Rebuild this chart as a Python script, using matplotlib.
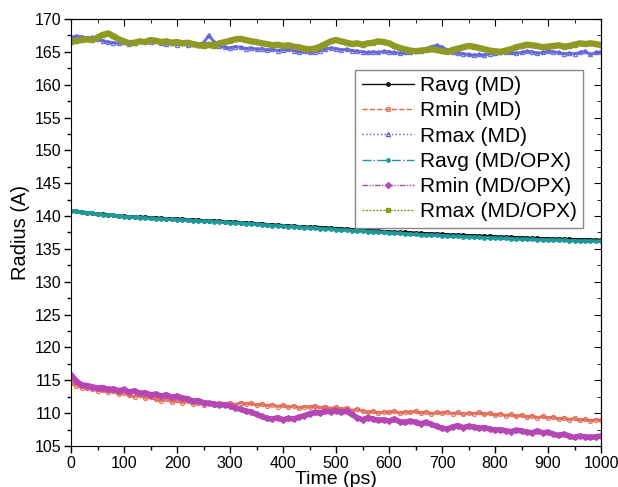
import numpy as np
import matplotlib
matplotlib.use("Agg")
import matplotlib.pyplot as plt
from matplotlib.lines import Line2D
from matplotlib.ticker import MultipleLocator

plt.rcParams['font.family'] = ['Liberation Sans', 'DejaVu Sans']

# Simulation time (ps), sampled every 10 ps
time_ps = np.arange(0, 1001, 10)

ravg_md = [
    140.8, 140.7, 140.6, 140.5, 140.4, 140.3, 140.25, 140.2, 140.1, 140.0,
    139.95, 139.9, 139.85, 139.8, 139.8, 139.75, 139.7, 139.65, 139.6, 139.6,
    139.55, 139.5, 139.45, 139.4, 139.35, 139.3, 139.3, 139.25, 139.2, 139.15,
    139.1, 139.05, 139.0, 138.95, 138.9, 138.85, 138.8, 138.7, 138.65, 138.6,
    138.55, 138.5, 138.45, 138.4, 138.35, 138.3, 138.3, 138.25, 138.2, 138.15,
    138.1, 138.05, 138.0, 137.95, 137.9, 137.85, 137.8, 137.75, 137.7, 137.65,
    137.6, 137.55, 137.5, 137.5, 137.45, 137.4, 137.35, 137.3, 137.3, 137.25,
    137.2, 137.15, 137.1, 137.1, 137.05, 137.0, 137.0, 136.95, 136.9, 136.9,
    136.85, 136.8, 136.8, 136.75, 136.7, 136.7, 136.65, 136.6, 136.6, 136.55,
    136.55, 136.5, 136.5, 136.45, 136.45, 136.4, 136.4, 136.4, 136.35, 136.35,
    136.3]

rmin_md = [
    114.6, 114.2, 113.9, 113.8, 113.7, 113.4, 113.5, 113.2, 113.3, 112.9,
    113.1, 112.7, 112.5, 112.8, 112.3, 112.4, 112.1, 111.9, 112.2, 111.7,
    112.0, 111.6, 111.8, 111.4, 111.6, 111.3, 111.5, 111.2, 111.6, 111.4,
    111.5, 111.3, 111.6, 111.4, 111.5, 111.2, 111.4, 111.1, 111.3, 111.0,
    111.2, 110.9, 111.1, 110.8, 111.0, 110.9, 111.1, 110.8, 111.0, 110.7,
    110.9, 110.6, 110.8, 110.4, 110.6, 110.3, 110.1, 110.3, 110.0, 110.2,
    110.1, 110.3, 110.0, 110.2, 110.1, 110.3, 110.0, 110.2, 109.9, 110.1,
    110.0, 110.2, 109.9, 110.1, 109.8, 110.0, 109.9, 110.1, 109.8, 110.0,
    109.7, 109.9, 109.6, 109.8, 109.5, 109.7, 109.4, 109.6, 109.3, 109.5,
    109.3, 109.4, 109.1, 109.3, 109.0, 109.2, 108.9, 109.1, 108.8, 109.0,
    108.9]

rmax_md = [
    167.2, 167.4, 167.3, 167.1, 167.2, 167.0, 166.7, 166.5, 166.4, 166.3,
    166.5, 166.2, 166.4, 166.6, 166.7, 166.5, 166.6, 166.4, 166.2, 166.3,
    166.1, 166.3, 166.0, 166.2, 166.1, 166.4, 167.5, 166.5, 165.9, 165.7,
    165.6, 165.8, 165.7, 165.5, 165.6, 165.4, 165.5, 165.3, 165.4, 165.2,
    165.3, 165.4, 165.2, 165.0, 165.1, 164.9, 165.0, 165.2, 165.4, 165.6,
    165.5, 165.3, 165.4, 165.2, 165.1, 165.0, 164.9, 165.0, 164.9, 165.1,
    165.0, 164.9, 164.8, 164.9, 165.0, 165.1, 165.3, 165.5, 165.8, 166.0,
    165.7, 165.3, 165.0, 164.8, 164.7, 164.6, 164.5, 164.6, 164.5, 164.7,
    164.8, 164.9, 165.0, 164.9, 164.8, 164.9, 165.1, 165.0, 164.8, 164.9,
    165.1, 165.0, 164.9, 164.7, 164.8, 164.7, 164.9, 165.1, 164.6, 164.9,
    165.0]

ravg_opx = [
    140.8, 140.7, 140.6, 140.5, 140.4, 140.3, 140.2, 140.15, 140.1, 140.0,
    139.9, 139.85, 139.8, 139.75, 139.7, 139.65, 139.6, 139.55, 139.5, 139.5,
    139.45, 139.4, 139.35, 139.3, 139.25, 139.2, 139.2, 139.15, 139.1, 139.05,
    139.0, 138.95, 138.9, 138.85, 138.8, 138.75, 138.7, 138.6, 138.55, 138.5,
    138.45, 138.4, 138.35, 138.3, 138.25, 138.2, 138.15, 138.1, 138.05, 138.0,
    137.95, 137.9, 137.85, 137.8, 137.75, 137.7, 137.65, 137.6, 137.55, 137.5,
    137.45, 137.4, 137.35, 137.3, 137.25, 137.2, 137.15, 137.1, 137.1, 137.05,
    137.0, 136.95, 136.9, 136.9, 136.85, 136.8, 136.8, 136.75, 136.7, 136.7,
    136.65, 136.6, 136.6, 136.55, 136.5, 136.5, 136.45, 136.45, 136.4, 136.4,
    136.35, 136.35, 136.3, 136.3, 136.25, 136.25, 136.2, 136.2, 136.2, 136.15,
    136.15]

rmin_opx = [
    115.8, 114.9, 114.3, 114.2, 114.0, 113.8, 113.9, 113.6, 113.7, 113.4,
    113.6, 113.2, 113.4, 113.0, 113.1, 112.8, 112.9, 112.6, 112.8, 112.4,
    112.6, 112.3, 112.2, 111.8, 111.9, 111.6, 111.5, 111.4, 111.2, 111.3,
    111.1, 110.8, 110.6, 110.3, 110.2, 109.8, 109.5, 109.2, 109.1, 109.3,
    109.0, 109.2, 109.1, 109.4, 109.6, 109.9, 110.1, 110.0, 110.3, 110.2,
    110.4, 110.1, 110.3, 109.8, 109.3, 109.0, 109.3, 109.1, 108.9, 109.0,
    108.8, 109.1, 108.7, 108.6, 108.8, 108.6, 108.4, 108.6, 108.3, 108.0,
    107.7, 107.6, 107.9, 108.1, 107.8, 108.0, 107.9, 107.7, 107.8, 107.6,
    107.4, 107.5, 107.3, 107.2, 107.4, 107.3, 107.1, 107.0, 107.3, 107.0,
    107.1, 106.8, 106.6, 106.8, 106.5, 106.3, 106.5, 106.4, 106.3, 106.4,
    106.5]

rmax_opx = [
    166.5, 166.7, 166.8, 166.9, 166.8, 167.2, 167.6, 167.8, 167.4, 166.9,
    166.6, 166.3, 166.4, 166.6, 166.5, 166.8, 166.7, 166.5, 166.6, 166.4,
    166.5, 166.3, 166.4, 166.2, 166.0, 165.9, 166.1, 165.9, 166.3, 166.5,
    166.7, 166.9, 167.0, 166.8, 166.6, 166.5, 166.3, 166.2, 166.0, 166.1,
    165.9, 166.0, 165.8, 165.7, 165.5, 165.4, 165.5, 165.8, 166.2, 166.6,
    166.8, 166.6, 166.4, 166.2, 166.3, 166.1, 166.3, 166.4, 166.6, 166.5,
    166.3, 165.9, 165.6, 165.4, 165.2, 165.1, 165.2, 165.3, 165.4, 165.3,
    165.1, 165.0, 165.3, 165.5, 165.7, 165.9, 165.8, 165.6, 165.4, 165.2,
    165.1, 165.0, 165.2, 165.4, 165.7, 165.9, 166.1, 166.0, 165.9, 165.7,
    165.8, 165.9, 166.0, 165.8, 165.9, 166.1, 166.3, 166.2, 166.3, 166.2,
    166.0]

series = [
    ("Ravg (MD)", ravg_md, dict(color="#111111", ls="-", marker="o", ms=2.5)),
    ("Rmin (MD)", rmin_md, dict(color="#e2654f", ls="--", marker="o", ms=3,
                                mfc="none", mew=0.9)),
    ("Rmax (MD)", rmax_md, dict(color="#5a5ad8", ls=":", marker="^", ms=3,
                                mfc="none", mew=0.9)),
    ("Ravg (MD/OPX)", ravg_opx, dict(color="#1f9a9a", ls="-.", marker="o", ms=2.5)),
    ("Rmin (MD/OPX)", rmin_opx, dict(color="#b646b6", ls=(0, (4, 1, 1, 1, 1, 1)),
                                     marker="D", ms=3)),
    ("Rmax (MD/OPX)", rmax_opx, dict(color="#8e9a24", ls=(0, (1.5, 1)),
                                     marker="s", ms=3.5)),
]
plot_styles = [
    dict(lw=2.4),
    dict(lw=2.2, ls="-", alpha=0.85),
    dict(lw=2.2, ls="-", alpha=0.85),
    dict(lw=2.4, ls="-"),
    dict(lw=4.0, ls="-"),
    dict(lw=4.5, ls="-"),
]

fig = plt.figure(figsize=(6.18, 4.87), dpi=100)
ax = fig.add_axes([0.1149, 0.0842, 0.8576, 0.8768])

handles = []
for (label, values, style), extra in zip(series, plot_styles):
    ax.plot(time_ps, values, **{**style, **extra})
    handles.append(Line2D([], [], lw=1.0, label=label, **style))

ax.set_xlim(0, 1000)
ax.set_ylim(105, 170)
ax.xaxis.set_major_locator(MultipleLocator(100))
ax.xaxis.set_minor_locator(MultipleLocator(50))
ax.yaxis.set_major_locator(MultipleLocator(5))
ax.yaxis.set_minor_locator(MultipleLocator(2.5))
ax.tick_params(which="major", direction="out", length=5, width=1,
               labelsize=11.5, pad=2)
ax.tick_params(which="minor", direction="out", length=3, width=1)

# Inward ticks on the top and right frame
top = ax.secondary_xaxis("top")
top.xaxis.set_major_locator(MultipleLocator(100))
top.xaxis.set_minor_locator(MultipleLocator(50))
top.tick_params(which="major", direction="in", length=5, labeltop=False)
top.tick_params(which="minor", direction="in", length=3)
right = ax.secondary_yaxis("right")
right.yaxis.set_major_locator(MultipleLocator(5))
right.yaxis.set_minor_locator(MultipleLocator(2.5))
right.tick_params(which="major", direction="in", length=5, labelright=False)
right.tick_params(which="minor", direction="in", length=3)

ax.set_xlabel("Time (ps)", fontsize=14, labelpad=0)
ax.set_ylabel("Radius (A)", fontsize=14.5, labelpad=3)

leg = ax.legend(handles=handles, loc="upper right",
                bbox_to_anchor=(0.966, 0.881), fontsize=15, numpoints=1,
                fancybox=False, framealpha=1, edgecolor="#888888",
                handlelength=2.5, handletextpad=0.3, labelspacing=0.3,
                borderpad=0.3, borderaxespad=0)
leg.get_frame().set_linewidth(1.0)

fig.savefig("out.png", dpi=100)
